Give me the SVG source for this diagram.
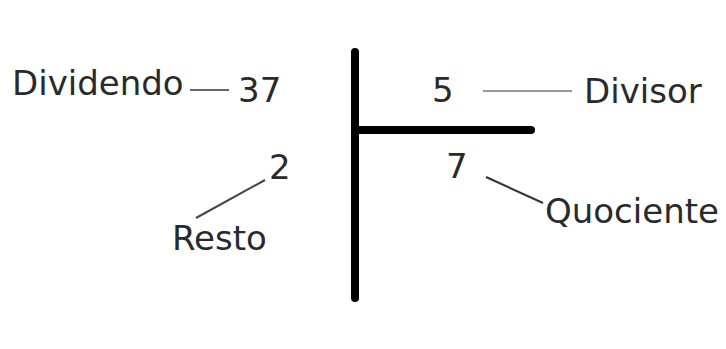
<svg xmlns="http://www.w3.org/2000/svg" width="726" height="349" viewBox="0 0 726 349">
<style>
.t{font-family:"DejaVu Sans",Verdana,sans-serif;font-size:34px;fill:#2a2a2a}
.bar{stroke:#000;stroke-width:8;stroke-linecap:round}
.c{fill:none;stroke-width:2}
</style>
<rect width="726" height="349" fill="#fff"/>
<g id="division-bracket">
<line class="bar" x1="355" y1="52" x2="355" y2="298"/>
<line class="bar" x1="355" y1="130" x2="531" y2="130"/>
</g>
<g id="connectors">
<line class="c" x1="190" y1="90" x2="229" y2="90" stroke="#666"/>
<line class="c" x1="483" y1="91" x2="572" y2="91" stroke="#999"/>
<line class="c" x1="265" y1="180" x2="196" y2="218" stroke="#444"/>
<line class="c" x1="486" y1="177" x2="543" y2="203" stroke="#333"/>
</g>
<g id="dividendo-label"><text class="t" x="12" y="95">Dividendo</text></g>
<g id="dividendo"><text class="t" x="238" y="102">37</text></g>
<g id="divisor"><text class="t" x="432" y="102">5</text></g>
<g id="divisor-label"><text class="t" x="584" y="103">Divisor</text></g>
<g id="resto"><text class="t" x="269" y="179">2</text></g>
<g id="quociente"><text class="t" x="446" y="178">7</text></g>
<g id="resto-label"><text class="t" x="172" y="250">Resto</text></g>
<g id="quociente-label"><text class="t" x="545" y="223">Quociente</text></g>
</svg>
